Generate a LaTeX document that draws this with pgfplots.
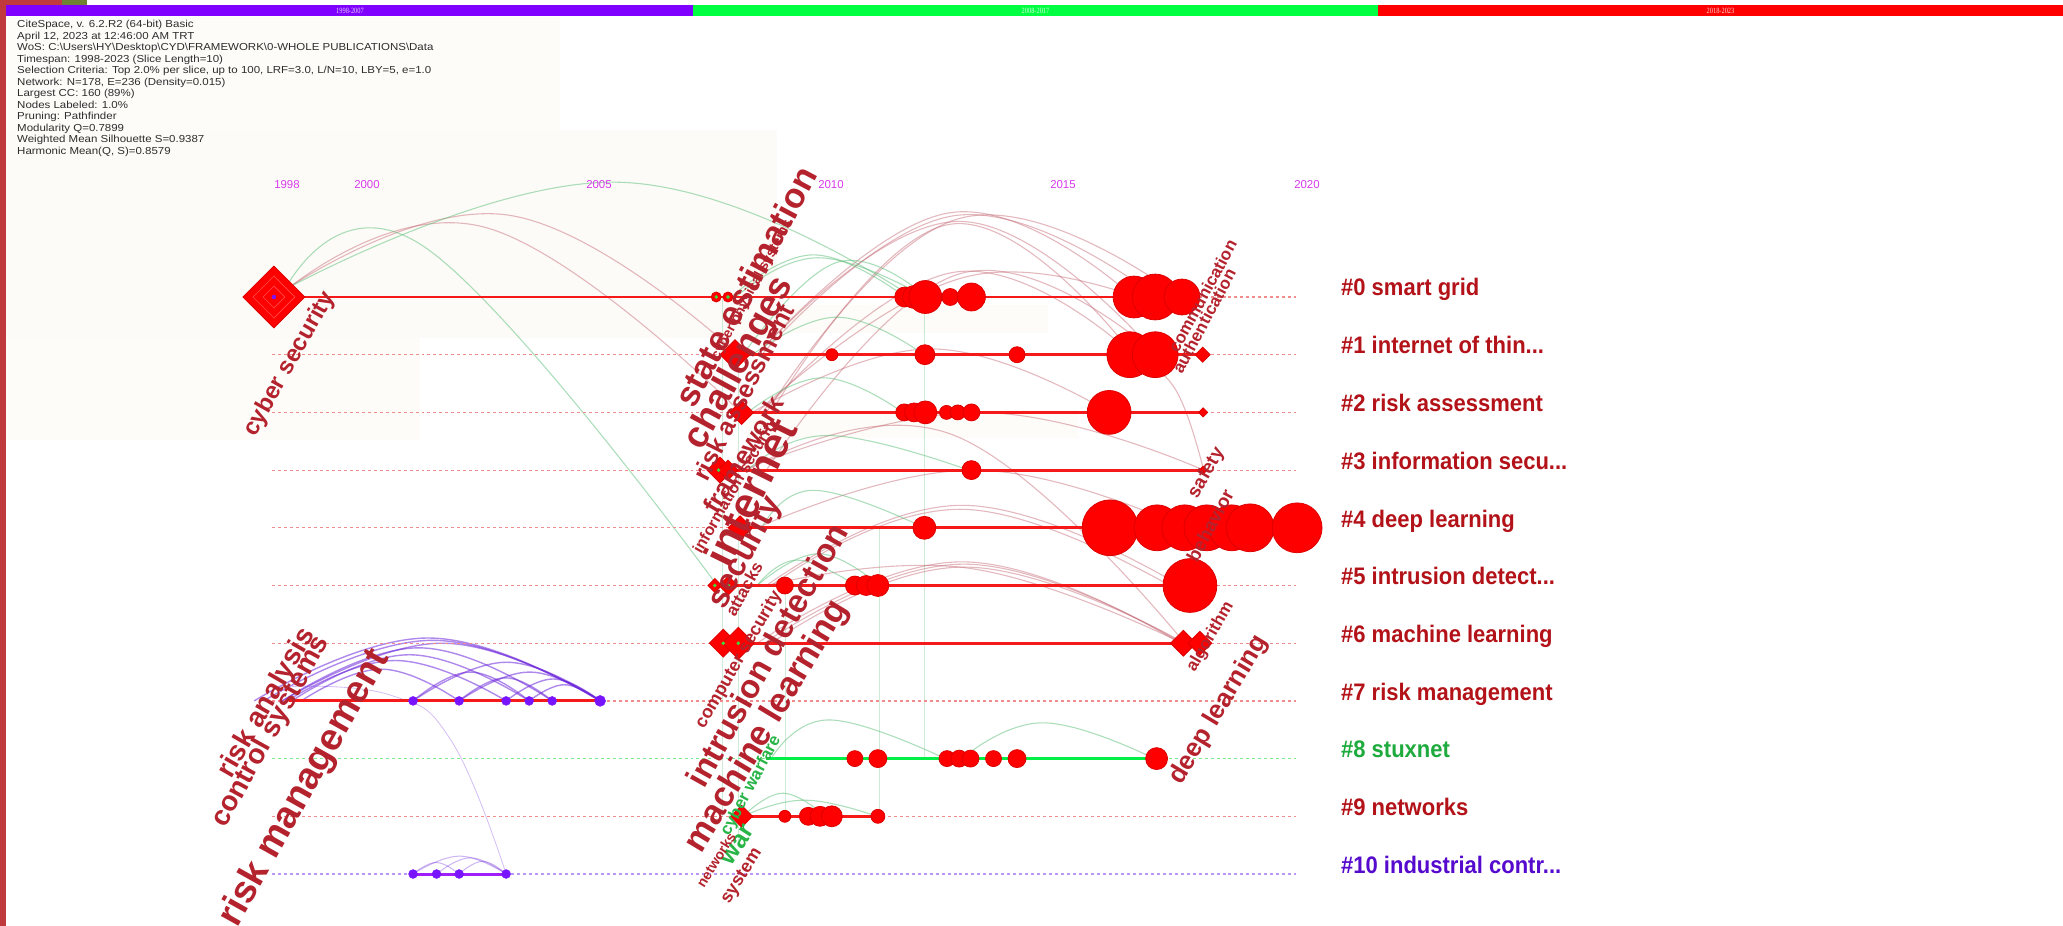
\documentclass[border=0pt]{standalone}
\usepackage{pgfplots}
\pgfplotsset{compat=1.18}
\usepackage{pgfplotstable}
\usepackage{fontspec}
\setmainfont{Liberation Sans}
\newfontfamily\serifsmall{Liberation Serif}

\definecolor{nodered}{RGB}{255,0,0}
\definecolor{nodeedge}{RGB}{220,0,0}
\definecolor{linered}{RGB}{245,25,25}
\definecolor{labred}{RGB}{180,35,45}
\definecolor{clured}{RGB}{178,18,24}
\definecolor{clugreen}{RGB}{30,170,60}
\definecolor{clupurple}{RGB}{85,10,205}
\definecolor{labgreen}{RGB}{40,180,70}
\definecolor{dotred}{RGB}{240,140,140}
\definecolor{dotgreen}{RGB}{120,235,140}
\definecolor{dotpurple}{RGB}{185,150,250}
\definecolor{arcpink}{RGB}{195,100,112}
\definecolor{arcgreen}{RGB}{90,190,120}
\definecolor{arcpurple}{RGB}{110,40,220}
\definecolor{barpurple}{RGB}{128,0,255}
\definecolor{bargreen}{RGB}{0,255,64}
\definecolor{barred}{RGB}{255,0,0}
\definecolor{yearmag}{RGB}{215,60,235}
\definecolor{edgestrip}{RGB}{192,57,60}
\definecolor{hdrgray}{RGB}{45,45,45}
\definecolor{dotpurp}{RGB}{120,20,255}
\definecolor{linepurp}{RGB}{160,30,250}
\definecolor{greenline}{RGB}{0,240,70}
\definecolor{centergreen}{RGB}{60,220,60}
\definecolor{ringred}{RGB}{255,75,75}

\pgfdeclareplotmark{sqd*}{%
  \pgfpathmoveto{\pgfqpoint{0pt}{\pgfplotmarksize}}%
  \pgfpathlineto{\pgfqpoint{\pgfplotmarksize}{0pt}}%
  \pgfpathlineto{\pgfqpoint{0pt}{-\pgfplotmarksize}}%
  \pgfpathlineto{\pgfqpoint{-\pgfplotmarksize}{0pt}}%
  \pgfpathclose\pgfusepathqfillstroke}
\pgfdeclareplotmark{sqd}{%
  \pgfpathmoveto{\pgfqpoint{0pt}{\pgfplotmarksize}}%
  \pgfpathlineto{\pgfqpoint{\pgfplotmarksize}{0pt}}%
  \pgfpathlineto{\pgfqpoint{0pt}{-\pgfplotmarksize}}%
  \pgfpathlineto{\pgfqpoint{-\pgfplotmarksize}{0pt}}%
  \pgfpathclose\pgfusepathqstroke}

% circle nodes: year, row, radius
\pgfplotstableread{
x y r
2011.44 0 10
2011.64 0 11.5
2011.88 0 16.5
2012.41 0 8.5
2012.86 0 14
2016.32 0 21
2016.77 0 23
2017.34 0 18
2007.43 0 5
2007.68 0 5
2009.89 1 6
2011.87 1 10
2013.83 1 8
2016.23 1 23
2016.77 1 23
2011.43 2 8.5
2011.64 2 9.5
2011.88 2 11.5
2012.33 2 7
2012.57 2 7.5
2012.86 2 8.5
2015.79 2 22
2012.86 3 9.5
2011.86 4 11.5
2015.81 4 28
2016.81 4 23
2017.40 4 23
2017.87 4 23
2018.40 4 23
2018.79 4 24
2019.79 4 25
2008.89 5 8.5
2010.38 5 9.5
2010.62 5 10
2010.87 5 11
2017.51 5 27
2010.38 8 8
2010.87 8 9
2012.34 8 8
2012.60 8 8.5
2012.84 8 8.5
2013.33 8 8
2013.83 8 9
2016.80 8 11
2008.89 9 6
2009.39 9 9
2009.64 9 10
2009.89 9 10.5
2010.87 9 7
}\circlesT

% diamond nodes: year, row, half size
\pgfplotstableread{
x y r
1998.02 0 31
2007.83 1 15
2017.78 1 7.5
2007.97 2 12
2017.79 2 4.5
2007.51 3 13
2007.68 3 10
2017.79 3 4
2007.94 4 12
2007.40 5 7
2007.69 5 9.5
2007.58 6 14
2007.90 6 16
2017.37 6 13
2017.72 6 12
2007.97 9 11
}\diamondsT

\pgfplotsset{
  sized/.style={scatter, only marks, mark=#1, point meta=explicit,
    mark options={line width=0.8pt},
    scatter/use mapped color={draw=nodeedge, fill=nodered},
    visualization depends on={\thisrow{r} \as \rad},
    scatter/@pre marker code/.append style={/tikz/mark size=\rad}},
  arcP/.style={arcpink, opacity=0.45, line width=1.1pt, smooth, tension=0.75, no markers},
  arcG/.style={arcgreen, opacity=0.5, line width=1.1pt, smooth, tension=0.75, no markers},
  arcU/.style={arcpurple, opacity=0.55, line width=1.4pt, smooth, tension=0.75, no markers},
  vline/.style={arcgreen, opacity=0.3, line width=0.7pt, no markers},
  dotR/.style={dotred, line width=1.2pt, dash pattern=on 3pt off 3pt, no markers},
  solR/.style={linered, line width=3pt, no markers},
}

\begin{document}
\begin{tikzpicture}
% ---------- background (pixel frame: x right, y down) ----------
\begin{scope}[shift={(0,926bp)}, x=1bp, y=-1bp]
  \fill[white] (0,0) rectangle (2063,926);
  \fill[color={rgb,255:red,253;green,252;blue,249}] (0,17) rectangle (560,172);
  \fill[color={rgb,255:red,253;green,251;blue,247}] (0,130) rectangle (777,338);
  \fill[color={rgb,255:red,253;green,252;blue,248}] (734,305) rectangle (1048,333);
  \fill[color={rgb,255:red,253;green,252;blue,248}] (746,410) rectangle (1078,438);
  \fill[color={rgb,255:red,254;green,252;blue,249}] (0,338) rectangle (420,440);
  % top bars
  \fill[edgestrip] (0,0) rectangle (62,4.7);
  \fill[color={rgb,255:red,110;green,130;blue,50}] (62,0) rectangle (87,4.7);
  \fill[barpurple] (6.2,4.7) rectangle (693,16.3);
  \fill[bargreen] (693,4.7) rectangle (1378,16.3);
  \fill[barred] (1378,4.7) rectangle (2063,16.3);
  \fill[edgestrip] (0,0) rectangle (6.2,926);
\end{scope}

\begin{axis}[
  at={(0,0)}, anchor=south west,
  scale only axis, width=2063bp, height=926bp,
  xmin=1992.1915, xmax=2036.0851,
  ymin=-5.1473, ymax=10.9012, y dir=reverse,
  hide axis, clip=false,
]
% ---- faint vertical links ----
\addplot[vline] coordinates {(2011.85,0) (2011.85,8)};
\addplot[vline] coordinates {(2010.90,4) (2010.90,9)};
\addplot[vline] coordinates {(2008.90,5) (2008.90,9)};
\addplot[vline] coordinates {(2007.55,0) (2007.55,9)};
\addplot[vline] coordinates {(2007.90,1) (2007.90,9.5)};
% ---- pink arcs ----
\addplot[arcP] coordinates {(1998.25,-0.12) (2003.0,-1.42) (2007.9,1)};
\addplot[arcP] coordinates {(1998.25,-0.10) (2002.5,-1.21) (2007.95,2)};
\addplot[arcP] coordinates {(2008.3,1) (2012.4,-1.46) (2016.3,0)};
\addplot[arcP] coordinates {(2008.4,1) (2012.5,-1.41) (2016.8,0)};
\addplot[arcP] coordinates {(2008.5,2) (2012.6,-1.36) (2017.3,0)};
\addplot[arcP] coordinates {(2008.3,1) (2012.6,-1.31) (2016.8,1)};
\addplot[arcP] coordinates {(2008.6,2) (2012.4,-1.26) (2016.3,1)};
\addplot[arcP] coordinates {(2008.4,2) (2012.5,-0.43) (2016.3,1)};
\addplot[arcP] coordinates {(2008.5,3) (2012.6,-0.40) (2016.8,1)};
\addplot[arcP] coordinates {(2008.3,2) (2012.8,-0.36) (2017.3,0.3)};
\addplot[arcP] coordinates {(2008.2,2) (2012.0,0.9) (2015.8,2)};
\addplot[arcP] coordinates {(2008.0,3) (2013.0,2.0) (2017.8,3)};
\addplot[arcP] coordinates {(2008.3,4) (2012.9,3.0) (2017.4,4)};
\addplot[arcP] coordinates {(2008.5,5) (2012.66,3.61) (2017.3,5)};
\addplot[arcP] coordinates {(2008.6,5) (2012.7,3.68) (2017.5,5.2)};
\addplot[arcP] coordinates {(2008.3,6) (2012.66,4.59) (2017.3,6)};
\addplot[arcP] coordinates {(2008.45,6) (2012.7,4.63) (2017.35,6)};
\addplot[arcP] coordinates {(2008.6,6) (2012.7,4.68) (2017.4,6)};
\addplot[arcP] coordinates {(2008.5,5) (2012.8,4.70) (2017.35,6)};
\addplot[arcP] coordinates {(2008.1,3) (2012.5,2.4) (2017.4,6)};
\addplot[arcP] coordinates {(2016.3,1) (2017.2,1.6) (2017.8,3)};
% ---- green arcs ----
\addplot[arcG] coordinates {(1998.3,-0.15) (2005.3,-1.99) (2011.6,0)};
\addplot[arcG] coordinates {(1998.2,-0.05) (2001.2,-0.88) (2007.45,5)};
\addplot[arcG] coordinates {(2007.75,0) (2009.5,-0.73) (2011.45,0)};
\addplot[arcG] coordinates {(2007.85,0) (2009.6,-0.68) (2011.88,0)};
\addplot[arcG] coordinates {(2008.0,1) (2010.0,-0.60) (2011.9,0)};
\addplot[arcG] coordinates {(2008.2,1) (2010.0,0.35) (2011.85,1)};
\addplot[arcG] coordinates {(2008.1,2) (2009.7,1.4) (2011.4,2)};
\addplot[arcG] coordinates {(2008.1,3) (2009.8,2.4) (2012.8,3)};
\addplot[arcG] coordinates {(2008.4,4) (2009.5,3.35) (2011.86,4)};
\addplot[arcG] coordinates {(2008.3,5) (2009.15,4.56) (2010.4,5)};
\addplot[arcG] coordinates {(2008.3,5) (2009.6,4.45) (2010.9,5)};
\addplot[arcG] coordinates {(2008.6,8) (2009.83,7.33) (2012.3,8)};
\addplot[arcG] coordinates {(2012.66,8) (2014.38,7.38) (2016.75,8)};
\addplot[arcG] coordinates {(2008.0,9) (2008.85,8.6) (2009.75,9)};
\addplot[arcG] coordinates {(2008.0,9) (2009.3,8.72) (2010.85,9)};
% ---- purple arcs (cluster 7 and 10) ----
\addplot[arcU] coordinates {(1997.6,7) (2001.3,5.91) (2004.96,7)};
\addplot[arcU] coordinates {(1997.8,7) (2001.4,5.95) (2004.96,7)};
\addplot[arcU] coordinates {(1998.2,7) (2001.6,6.00) (2004.96,7)};
\addplot[arcU] coordinates {(1998.2,7) (2001.1,6.08) (2003.94,7)};
\addplot[arcU] coordinates {(1998.4,7) (2000.9,6.20) (2003.45,7)};
\addplot[arcU] coordinates {(1998.3,7) (2000.6,6.30) (2002.96,7)};
\addplot[arcU] coordinates {(1998.6,7) (2000.3,6.45) (2001.96,7)};
\addplot[arcU] coordinates {(2000.98,7) (2002.97,6.33) (2004.96,7)};
\addplot[arcU] coordinates {(2001.96,7) (2003.46,6.50) (2004.96,7)};
\addplot[arcU] coordinates {(2000.98,7) (2002.2,6.50) (2003.45,7)};
\addplot[arcU] coordinates {(2002.96,7) (2003.96,6.62) (2004.96,7)};
\addplot[arcU] coordinates {(2001.96,7) (2002.95,6.60) (2003.94,7)};
\addplot[arcU] coordinates {(2003.45,7) (2004.2,6.72) (2004.96,7)};
\addplot[arcU, opacity=0.3, line width=0.8pt] coordinates {(1998.4,6.75) (2000.5,6.9) (2001.8,7.7) (2002.96,10)};
\addplot[arcU, opacity=0.35, line width=1pt] coordinates {(2000.98,10) (2001.97,9.69) (2002.96,10)};
\addplot[arcU, opacity=0.35, line width=1pt] coordinates {(2001.48,10) (2002.2,9.72) (2002.96,10)};
\addplot[arcU, opacity=0.35, line width=1pt] coordinates {(2001.96,10) (2002.46,9.78) (2002.96,10)};
\addplot[arcU, opacity=0.35, line width=1pt] coordinates {(2000.98,10) (2001.47,9.80) (2001.96,10)};
% ---- dotted timelines ----
\addplot[dotR] coordinates {(1997.98,0) (2019.77,0)};
\addplot[dotR] coordinates {(1997.98,1) (2019.77,1)};
\addplot[dotR] coordinates {(1997.98,2) (2019.77,2)};
\addplot[dotR] coordinates {(1997.98,3) (2019.77,3)};
\addplot[dotR] coordinates {(1997.98,4) (2019.77,4)};
\addplot[dotR] coordinates {(1997.98,5) (2019.77,5)};
\addplot[dotR] coordinates {(1997.98,6) (2019.77,6)};
\addplot[dotR] coordinates {(1997.98,7) (2019.77,7)};
\addplot[dotR, dotgreen] coordinates {(1997.98,8) (2019.77,8)};
\addplot[dotR] coordinates {(1997.98,9) (2019.77,9)};
\addplot[dotR, dotpurple] coordinates {(1997.98,10) (2019.77,10)};
% ---- solid timelines ----
\addplot[solR] coordinates {(1998.02,0) (2017.34,0)};
\addplot[solR] coordinates {(2007.83,1) (2017.78,1)};
\addplot[solR] coordinates {(2007.97,2) (2017.79,2)};
\addplot[solR] coordinates {(2007.51,3) (2017.79,3)};
\addplot[solR] coordinates {(2007.94,4) (2019.79,4)};
\addplot[solR] coordinates {(2007.40,5) (2017.51,5)};
\addplot[solR] coordinates {(2007.58,6) (2017.72,6)};
\addplot[solR] coordinates {(1998.34,7) (2004.96,7)};
\addplot[solR, greenline] coordinates {(2008.49,8) (2016.80,8)};
\addplot[solR] coordinates {(2007.97,9) (2010.87,9)};
\addplot[solR, linepurp] coordinates {(2000.98,10) (2002.96,10)};
% ---- nodes ----
\addplot[sized=*] table[x=x,y=y,meta=r] {\circlesT};
\addplot[sized=sqd*] table[x=x,y=y,meta=r] {\diamondsT};
\addplot[only marks, mark=sqd, mark size=21, mark options={draw=ringred, line width=0.6pt}] coordinates {(1998.02,0)};
\addplot[only marks, mark=sqd, mark size=11, mark options={draw=ringred, line width=0.6pt}] coordinates {(1998.02,0)};
\addplot[only marks, mark=*, mark size=2, mark options={fill=dotpurp, draw=dotpurp}] coordinates {(1998.02,0)};
\addplot[only marks, mark=*, mark size=4.5, mark options={fill=dotpurp, draw=dotpurp}] coordinates {
(2000.98,7) (2001.96,7) (2002.96,7) (2003.45,7) (2003.94,7)
(2000.98,10) (2001.48,10) (2001.96,10) (2002.96,10)};
\addplot[only marks, mark=*, mark size=5.5, mark options={fill=dotpurp, draw=dotpurp}] coordinates {(2004.96,7)};
\addplot[only marks, mark=*, mark size=1.6, mark options={fill=centergreen, draw=centergreen}] coordinates {
(2007.43,0) (2007.68,0) (2007.48,3) (2007.40,5) (2007.69,5) (2007.58,6) (2007.90,6)};
\end{axis}

% ---------- text (pixel frame) ----------
\begin{scope}[shift={(0,926bp)}, x=1bp, y=-1bp]
  % bar labels
  \node[text={rgb,255:red,225;green,205;blue,255}, font=\serifsmall\fontsize{8}{8}\selectfont, xscale=0.8, inner sep=0] at (350,10.6) {1998-2007};
  \node[text={rgb,255:red,215;green,255;blue,225}, font=\serifsmall\fontsize{8}{8}\selectfont, xscale=0.8, inner sep=0] at (1035.5,10.6) {2008-2017};
  \node[text={rgb,255:red,255;green,215;blue,215}, font=\serifsmall\fontsize{8}{8}\selectfont, xscale=0.8, inner sep=0] at (1720.5,10.6) {2018-2023};
  % header
  \begin{scope}[every node/.style={anchor=base west, inner sep=0, text=hdrgray, font=\fontsize{10.2}{10.2}\selectfont, xscale=1.13}]
    \node at (17,27.7) {CiteSpace, v. 6.2.R2 (64-bit) Basic};
    \node at (17,39.2) {April 12, 2023 at 12:46:00 AM TRT};
    \node at (17,50.7) {WoS: C:\textbackslash Users\textbackslash HY\textbackslash Desktop\textbackslash CYD\textbackslash FRAMEWORK\textbackslash 0-WHOLE PUBLICATIONS\textbackslash Data};
    \node at (17,62.2) {Timespan: 1998-2023 (Slice Length=10)};
    \node at (17,73.7) {Selection Criteria: Top 2.0\% per slice, up to 100, LRF=3.0, L/N=10, LBY=5, e=1.0};
    \node at (17,85.2) {Network: N=178, E=236 (Density=0.015)};
    \node at (17,96.7) {Largest CC: 160 (89\%)};
    \node at (17,108.2) {Nodes Labeled: 1.0\%};
    \node at (17,119.7) {Pruning: Pathfinder};
    \node at (17,131.2) {Modularity Q=0.7899};
    \node at (17,142.7) {Weighted Mean Silhouette S=0.9387};
    \node at (17,154.2) {Harmonic Mean(Q, S)=0.8579};
  \end{scope}
  % year labels
  \begin{scope}[every node/.style={inner sep=0, text=yearmag, font=\fontsize{11.5}{11.5}\selectfont}]
    \node at (287,184.3) {1998};
    \node at (367,184.3) {2000};
    \node at (599,184.3) {2005};
    \node at (831,184.3) {2010};
    \node at (1063,184.3) {2015};
    \node at (1307,184.3) {2020};
  \end{scope}
  % node labels
  \newcommand\lab[5][labred]{\node[inner sep=0, text=#1, rotate=#3, font=\bfseries\fontsize{#4}{#4}\selectfont] at #2 {#5};}
  \lab{(289.7,364)}{60.5}{24}{cyber security}
  \lab{(752,290)}{62}{14}{cyber physical systems}
  \lab{(743.3,392.3)}{63}{25}{risk assessment}
  \lab{(745.5,286.5)}{62}{35}{state estimation}
  \lab{(740,363.3)}{61.5}{37}{challenges}
  \lab{(743,455)}{59}{26}{framework}
  \lab{(736,486)}{60}{16}{information security}
  \lab{(750,492)}{63.8}{43}{internet}
  \lab{(745.5,552.5)}{62}{32}{security}
  \lab{(744,589)}{61}{17}{attacks}
  \lab{(739,660)}{60}{18}{computer security}
  \lab{(766.7,655)}{60.8}{33}{intrusion detection}
  \lab{(767.3,726.5)}{59}{35}{machine learning}
  \lab[labgreen]{(751,786)}{62}{17}{cyber warfare}
  \lab[labgreen]{(738,845)}{57}{25}{war}
  \lab{(716,860)}{58}{14}{networks}
  \lab{(742,876.5)}{58}{18}{system}
  \lab{(267,703)}{60}{28}{risk analysis}
  \lab{(271,731.5)}{61}{28}{control systems}
  \lab{(305,788)}{60.7}{38}{risk management}
  \lab{(1219,710)}{59}{26}{deep learning}
  \lab{(1210.5,637)}{60}{17}{algorithm}
  \lab{(1210,525.5)}{62}{19}{behavior}
  \lab{(1206.5,473)}{60}{19}{safety}
  \lab{(1202.5,296)}{61.6}{17}{communication}
  \lab{(1204,321)}{62}{17}{authentication}
  % cluster labels
  \begin{scope}[every node/.style={anchor=base west, inner sep=0, font=\bfseries\fontsize{24}{24}\selectfont, xscale=0.92}]
    \node[text=clured] at (1341,296) {\#0 smart grid};
    \node[text=clured] at (1341,354) {\#1 internet of thin...};
    \node[text=clured] at (1341,411.7) {\#2 risk assessment};
    \node[text=clured] at (1341,469.4) {\#3 information secu...};
    \node[text=clured] at (1341,527.1) {\#4 deep learning};
    \node[text=clured] at (1341,584.8) {\#5 intrusion detect...};
    \node[text=clured] at (1341,642.5) {\#6 machine learning};
    \node[text=clured] at (1341,700.2) {\#7 risk management};
    \node[text=clugreen] at (1341,757.9) {\#8 stuxnet};
    \node[text=clured] at (1341,815.6) {\#9 networks};
    \node[text=clupurple] at (1341,873.3) {\#10 industrial contr...};
  \end{scope}
\end{scope}
\pgfresetboundingbox
\path[use as bounding box] (0,0) rectangle (2063bp,926bp);
\end{tikzpicture}
\end{document}
